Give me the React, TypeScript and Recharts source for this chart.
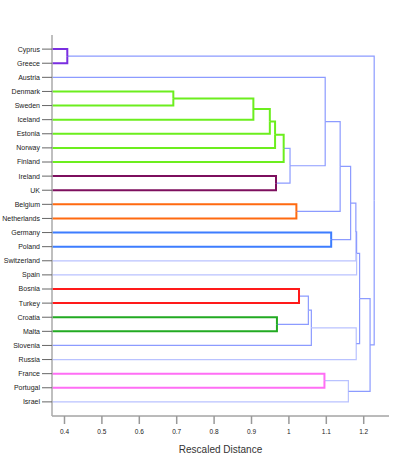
import React from 'react';
import { ComposedChart, Line, XAxis, YAxis } from 'recharts';

// Leaves in dendrogram order (top to bottom)
const COUNTRIES = [
  'Cyprus', 'Greece', 'Austria', 'Denmark', 'Sweden', 'Iceland', 'Estonia', 'Norway', 'Finland',
  'Ireland', 'UK', 'Belgium', 'Netherlands', 'Germany', 'Poland', 'Switzerland', 'Spain',
  'Bosnia', 'Turkey', 'Croatia', 'Malta', 'Slovenia', 'Russia', 'France', 'Portugal', 'Israel',
];

// Linkage: node ids 0..25 are leaves, merge k gets id 26 + k
const MERGE_LEFT = [0, 3, 27, 28, 29, 9, 19, 30, 33, 11, 17, 36, 37, 23, 2, 13, 40, 39, 42, 44, 45, 38, 46, 48, 26];
const MERGE_RIGHT = [1, 4, 5, 6, 7, 10, 20, 8, 31, 12, 18, 32, 21, 24, 34, 14, 35, 25, 41, 15, 16, 22, 47, 43, 49];
const MERGE_HEIGHT = [
  0.4075, 0.691, 0.905, 0.949, 0.963, 0.9655, 0.968, 0.986, 1.003, 1.02, 1.027, 1.052, 1.06,
  1.095, 1.097, 1.113, 1.137, 1.159, 1.165, 1.179, 1.181, 1.18, 1.189, 1.217, 1.228,
];
const LEAF_HEIGHT = 0;

const X_TICKS = [0.4, 0.5, 0.6, 0.7, 0.8, 0.9, 1, 1.1, 1.2];

// Styling
const CLUSTER_COLOURS: Record<number, string> = {
  0: '#7a2ee0',
  1: '#6cee1e', 2: '#6cee1e', 3: '#6cee1e', 4: '#6cee1e', 7: '#6cee1e',
  5: '#7d0f5e',
  6: '#22aa22',
  9: '#ff6a10',
  10: '#ff1a1a',
  13: '#ff6ef5',
  15: '#3d7dff',
};
const LINK = '#8c9bff';
const LINK_LIGHT = '#b9c2ff';
const LIGHT_CHILDREN = new Set([15, 16, 22, 38, 25, 39]);

const N = COUNTRIES.length;

function buildEdges() {
  const h: number[] = [];
  const y: number[] = [];
  for (let i = 0; i < N; i++) {
    h[i] = LEAF_HEIGHT;
    y[i] = i;
  }
  const edges: { data: { x: number; y: number }[]; stroke: string; width: number; coloured: boolean }[] = [];
  MERGE_HEIGHT.forEach((mh, k) => {
    const id = N + k;
    const a = MERGE_LEFT[k];
    const b = MERGE_RIGHT[k];
    h[id] = mh;
    y[id] = (y[a] + y[b]) / 2;
    const col = CLUSTER_COLOURS[k];
    [a, b].forEach((c) => {
      edges.push({
        data: [
          { x: h[c], y: y[c] },
          { x: mh, y: y[c] },
          { x: mh, y: y[id] },
        ],
        stroke: col ? col : LIGHT_CHILDREN.has(c) ? LINK_LIGHT : LINK,
        width: col ? 2 : 1.2,
        coloured: !!col,
      });
    });
  });
  return edges;
}

const EDGES = buildEdges();
const ORDERED = [...EDGES.filter((e) => !e.coloured), ...EDGES.filter((e) => e.coloured)];

const FONT = '"Liberation Sans", Arial, Helvetica, sans-serif';

const CountryTick = (props: any) => {
  const { x, y, payload } = props;
  return (
    <text x={x} y={y} dy="0.355em" textAnchor="end" fontSize={7} fill="#222" fontFamily={FONT}>
      {COUNTRIES[payload.value]}
    </text>
  );
};

export default function App() {
  return (
    <div style={{ position: 'absolute', left: 0, top: 0, width: 399, height: 467 }}>
      <style>{'svg.recharts-surface{overflow:visible}'}</style>
      <ComposedChart width={399} height={467} margin={{ top: 35, right: 10, left: 0, bottom: 21 }}>
        <XAxis
          type="number"
          dataKey="x"
          domain={[0.3666, 1.2676]}
          allowDataOverflow
          ticks={X_TICKS}
          tickFormatter={(v: number) => String(v)}
          height={30}
          tickSize={8}
          tickMargin={5}
          axisLine={{ stroke: '#777', strokeWidth: 1 }}
          tickLine={{ stroke: '#999', strokeWidth: 1.5 }}
          tick={{ fontSize: 6.5, fill: '#222', fontFamily: FONT }}
          label={{ value: 'Rescaled Distance', position: 'bottom', offset: 0, fontSize: 10, fill: '#333', fontFamily: FONT }}
        />
        <YAxis
          type="number"
          domain={[-1, N]}
          reversed
          ticks={COUNTRIES.map((_, i) => i)}
          interval={0}
          width={52}
          tickSize={10}
          tickMargin={2}
          axisLine={{ stroke: '#aaa', strokeWidth: 1.5 }}
          tickLine={{ stroke: '#666', strokeWidth: 1 }}
          tick={<CountryTick />}
        />
        {ORDERED.map((e, i) => (
          <Line
            key={i}
            data={e.data}
            dataKey="y"
            type="linear"
            stroke={e.stroke}
            strokeWidth={e.width}
            dot={false}
            activeDot={false}
            legendType="none"
            isAnimationActive={false}
          />
        ))}
      </ComposedChart>
    </div>
  );
}
